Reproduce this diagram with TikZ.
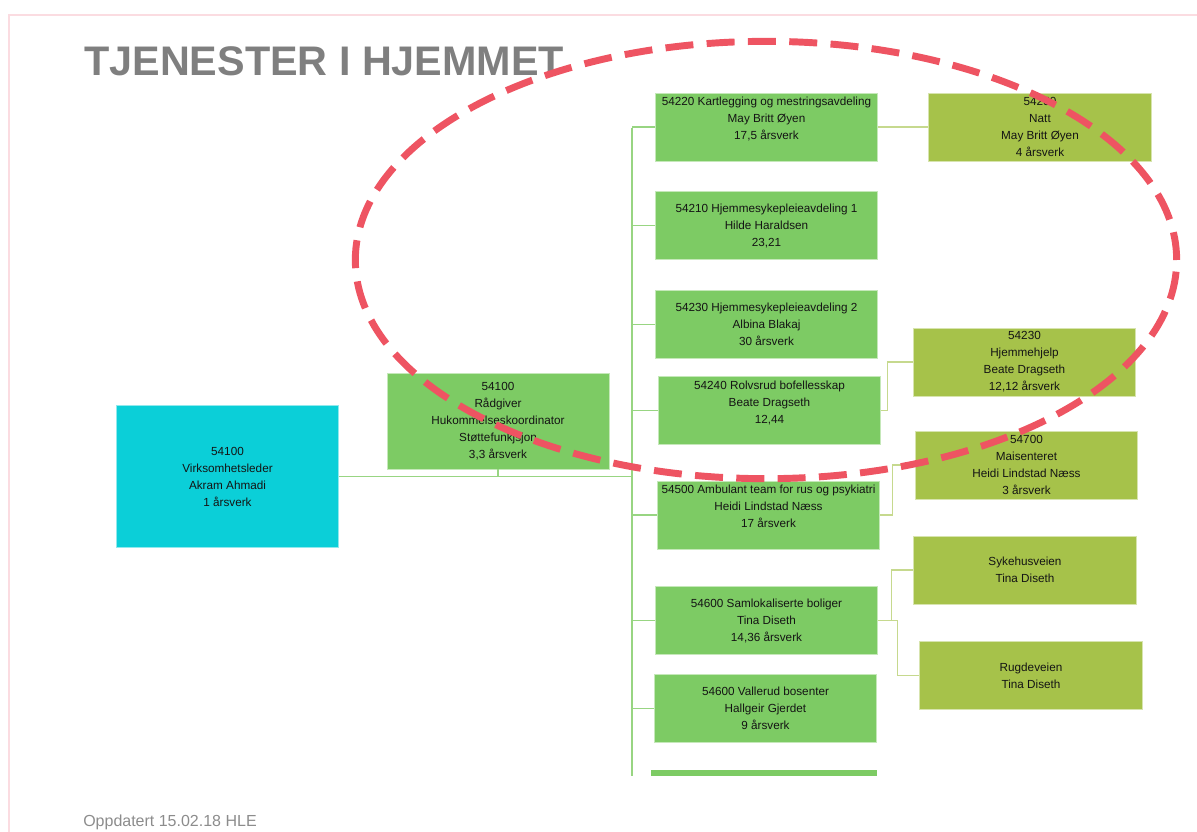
\documentclass[tikz,border=0pt]{standalone}
\usepackage{fontspec}
\setmainfont{Liberation Sans}

\definecolor{leadcyan}{HTML}{0BCFD8}
\definecolor{unitgreen}{HTML}{7DCB64}
\definecolor{subolive}{HTML}{A6C24A}
\definecolor{trunkgreen}{HTML}{98D582}
\definecolor{subline}{HTML}{C6D98E}
\definecolor{markred}{HTML}{EE5462}
\definecolor{framepink}{HTML}{FBDCE1}
\definecolor{titlegray}{HTML}{7F7F7F}
\definecolor{boxtext}{HTML}{141414}

\tikzset{
    unitbox/.style={
        fill=unitgreen, draw=unitgreen!45!white, line width=0.6pt,
        minimum width=167pt, minimum height=51pt, inner sep=0pt,
        align=center, text=boxtext,
        font=\fontsize{8.8}{12.75}\selectfont
    },
    subbox/.style={unitbox, fill=subolive, draw=subolive!45!white},
    leadbox/.style={unitbox, fill=leadcyan, draw=leadcyan!45!white,
        minimum height=107pt},
    trunkline/.style={draw=trunkgreen, line width=1.1pt},
    subconn/.style={draw=subline, line width=1.1pt},
    markring/.style={draw=markred, line width=5.2pt,
        dash pattern=on 21pt off 10pt}
}

\begin{document}
\begin{tikzpicture}[x=0.75pt, y=-0.75pt]
    \useasboundingbox (0,0) rectangle (1197,832);

    % Frame and title
    \draw[framepink, line width=1pt] (9,832) -- (9,15) -- (1197,15);
    \node[anchor=west, inner sep=0pt, text=titlegray,
        font=\fontsize{31}{31}\selectfont\bfseries]
        (title) at (84,61) {TJENESTER I HJEMMET};
    \node[anchor=west, inner sep=0pt, text=titlegray!90!white,
        font=\fontsize{12}{14}\selectfont]
        (updated) at (83,822) {Oppdatert 15.02.18 HLE};

    % Leader and staff
    \node[leadbox] (leader) at (227.5,476.5)
        {54100\\Virksomhetsleder\\Akram Ahmadi\\1 årsverk};
    \node[unitbox, minimum width=166.5pt, minimum height=72pt] (staff) at (498,421)
        {54100\\Rådgiver\\Hukommelseskoordinator\\Støttefunkjsjon\\3,3 årsverk};

    % Units
    \node[unitbox] (kart) at (766.5,127)
        {54220 Kartlegging og mestringsavdeling\\May Britt Øyen\\17,5 årsverk\\\mbox{}};
    \node[unitbox] (hsp1) at (766.5,225.5)
        {54210 Hjemmesykepleieavdeling  1\\Hilde  Haraldsen\\23,21};
    \node[unitbox] (hsp2) at (766.5,324.5)
        {54230 Hjemmesykepleieavdeling  2\\Albina Blakaj\\30 årsverk};
    \node[unitbox] (rolv) at (769.5,410.5)
        {54240 Rolvsrud bofellesskap\\Beate Dragseth\\12,44\\\mbox{}};
    \node[unitbox] (amb) at (768.5,515)
        {54500 Ambulant team for rus og psykiatri\\Heidi Lindstad Næss\\17 årsverk\\\mbox{}};
    \node[unitbox] (saml) at (766.5,620.5)
        {54600 Samlokaliserte  boliger\\Tina Diseth\\14,36 årsverk};
    \node[unitbox] (vall) at (765.5,708.5)
        {54600 Vallerud bosenter\\Hallgeir  Gjerdet\\9 årsverk};
    \fill[unitgreen] (651,770) rectangle (877,776);

    % Sub units
    \node[subbox] (natt) at (1040,127)
        {54250\\Natt\\May Britt Øyen\\4 årsverk};
    \node[subbox] (help) at (1024.5,362)
        {54230\\Hjemmehjelp\\Beate Dragseth\\12,12 årsverk};
    \node[subbox] (mais) at (1026.5,465)
        {54700\\Maisenteret\\Heidi Lindstad Næss\\3 årsverk};
    \node[subbox] (syke) at (1025,570)
        {Sykehusveien\\Tina Diseth};
    \node[subbox] (rugde) at (1031,675.5)
        {Rugdeveien\\Tina Diseth};

    % Trunk
    \coordinate (trunktop) at (632,128);
    \coordinate (trunkbot) at (632,776);
    \draw[trunkline] (trunktop) -- (trunkbot);
    \draw[trunkline] (leader.east) -- (leader.east -| trunktop);
    \draw[trunkline] (staff.south) -- (staff.south |- leader.east);
    \foreach \unit in {kart,hsp1,hsp2,rolv,amb,saml,vall} {
        \draw[trunkline] (trunktop |- \unit.west) -- (\unit.west);
    }

    % Sub connectors
    \draw[subconn] (kart.east) -- (natt.west);
    \draw[subconn] (rolv.east) -- ++(6,0) |- (help.west);
    \draw[subconn] (amb.east) -- ++(12,0) |- (mais.west);
    \draw[subconn] (saml.east) -- ++(13,0) |- (syke.west);
    \draw[subconn] (saml.east) -- ++(19,0) |- (rugde.west);

    % Red ring
    \draw[markring] (766,260) ellipse [x radius=308pt, y radius=164pt];

\end{tikzpicture}
\end{document}
